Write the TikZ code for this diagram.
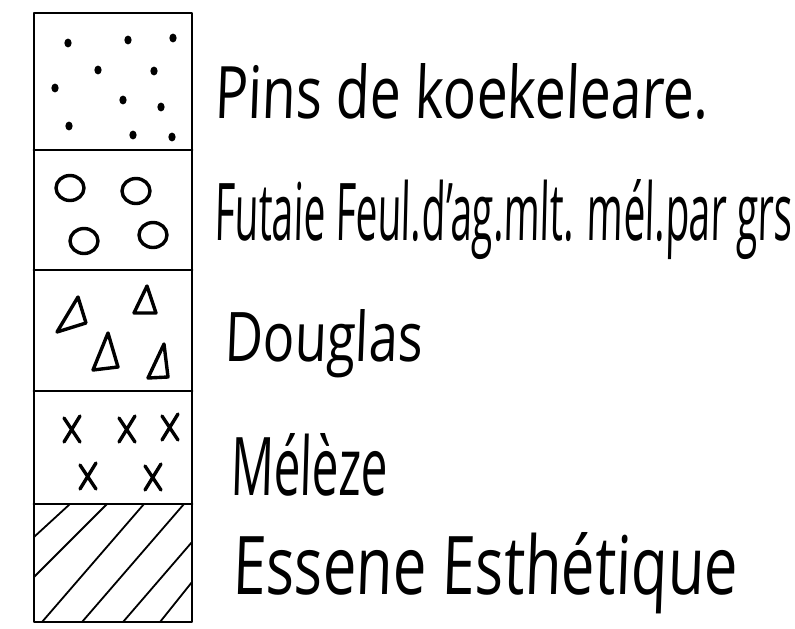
\documentclass[tikz,border=0pt]{standalone}
\usepackage{graphicx}
\usepackage{fontspec}
\setmainfont{Open Sans}[FakeSlant=0.05]

\begin{document}
\begin{tikzpicture}[x=1pt,y=-1pt,line cap=round,line join=round,
  frame/.style={line width=2.8pt},
  sym/.style={line width=3.4pt},
  hatch/.style={line width=1.8pt},
  lbl/.style={anchor=base west,inner sep=0pt}]

\useasboundingbox (0,0) rectangle (795,629);
\draw[frame] (34,13) rectangle (192,622);
\foreach \y in {150,270,391,504} \draw[frame] (34,\y) -- (192,\y);

\foreach \x/\y in {68/43,128/40,173/38,98/70,154/71,55/88,123/100,161/107,69/126,133/135,172/137}
  \fill (\x,\y) ellipse (3.6 and 4.4);
\foreach \x/\y in {70/188,136/191,84/241,153/235}
  \draw[sym] (\x,\y) ellipse (14 and 12.5);
\foreach \ax/\ay/\bx/\by/\cx/\cy in {78/297/57/332/86/323,147/286/134/313/156/313,108/333/93/370/118/367,164/344/148/378/168/377}
  \draw[sym] (\ax,\ay) -- (\bx,\by) -- (\cx,\cy) -- cycle;
\foreach \x/\y in {72/430,127/430,170/428,88/477,153/478}
  \draw[sym] (\x-8,\y-12) -- (\x+8,\y+12) (\x+8,\y-14) -- (\x-8,\y+12);
\foreach \ax/\ay/\bx/\by in {34/537/70/504,34/577/107/504,42/622/144/504,82/622/184/504,123/622/192/542,160/622/192/582}
  \draw[hatch] (\ax,\ay) -- (\bx,\by);

\node[lbl] (pins) at (214,118) {\resizebox{494pt}{55pt}{Pins de koekeleare.}};
\node[lbl] (futaie) at (214,240) {\resizebox{578pt}{61pt}{Futaie Feul.d’ag.mlt. mél.par grs}};
\node[lbl] (douglas) at (224,361) {\resizebox{198pt}{52pt}{Douglas}};
\node[lbl] (meleze) at (230,495) {\resizebox{157pt}{62pt}{Mélèze}};
\node[lbl] (essene) at (232,594) {\resizebox{505pt}{62pt}{Essene Esthétique}};

\end{tikzpicture}
\end{document}
